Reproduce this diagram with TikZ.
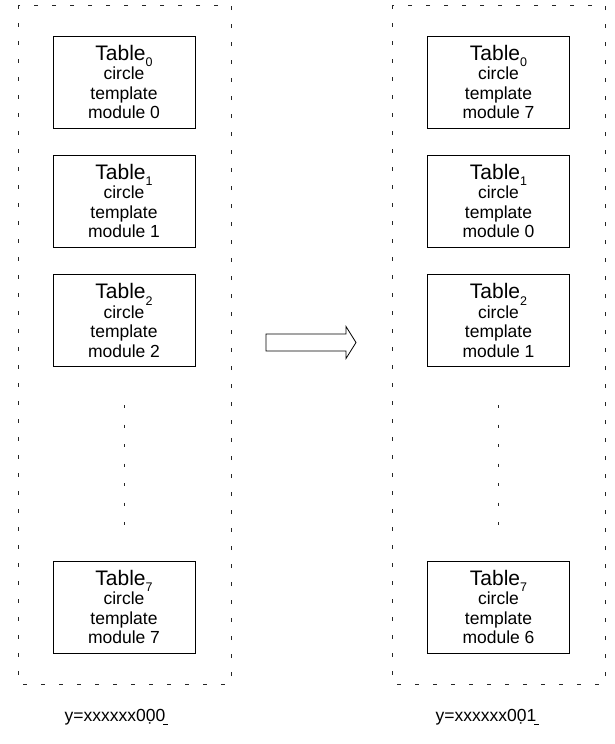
\documentclass[tikz,border=0pt]{standalone}
\usepackage{fontspec}
\setmainfont{Liberation Sans}
\newcommand{\tbl}[1]{{\fontsize{21}{21}\selectfont Table\raisebox{-6.5pt}{\fontsize{12.5}{12.5}\selectfont #1}}}
\newcommand{\ubar}[1]{\leavevmode\rlap{#1}\hbox to 0pt{\hskip0.45em\vrule height -2.5pt depth 3.5pt width 0.25em\hss}\phantom{#1}}
\begin{document}
\begin{tikzpicture}[x=1pt,y=-1pt,
  frame/.style={draw=black!85, line width=0.8pt, dash pattern=on 4pt off 14pt},
  dotline/.style={draw=black!85, line width=0.8pt, dash pattern=on 3pt off 16.5pt},
  tblbox/.style={draw, line width=0.8pt, minimum width=142pt, minimum height=92pt,
    align=center, inner sep=0pt, font={\fontsize{17.5}{19.5}\selectfont}},
  lbl/.style={font={\fontsize{17.5}{19.5}\selectfont}, inner sep=0pt}]
\useasboundingbox (0,0) rectangle (615,744);
% dashed frames
\draw[frame] (18,5) rectangle (231,684);
\draw[frame] (392,5) rectangle (605,684);
% left column
\node[tblbox] (l0) at (124,82)  {\tbl{0}\\circle\\template\\module 0};
\node[tblbox] (l1) at (124,201) {\tbl{1}\\circle\\template\\module 1};
\node[tblbox] (l2) at (124,320.5) {\tbl{2}\\circle\\template\\module 2};
\node[tblbox] (l7) at (124,607) {\tbl{7}\\circle\\template\\module 7};
% right column
\node[tblbox] (r0) at (498.5,82)  {\tbl{0}\\circle\\template\\module 7};
\node[tblbox] (r1) at (498.5,201) {\tbl{1}\\circle\\template\\module 0};
\node[tblbox] (r2) at (498.5,320.5) {\tbl{2}\\circle\\template\\module 1};
\node[tblbox] (r7) at (498.5,607) {\tbl{7}\\circle\\template\\module 6};
% dotted continuation lines
\coordinate (ldA) at (124,405);
\coordinate (ldB) at (124,535);
\coordinate (rdA) at (498.5,405);
\coordinate (rdB) at (498.5,535);
\draw[dotline] (ldA) -- (ldB);
\draw[dotline] (rdA) -- (rdB);
% block arrow
\draw[line width=0.8pt, line join=miter]
  (266,334) -- (346,334) -- (346,326.5) -- (356,342.5) -- (346,358.5)
  -- (346,351) -- (266,351) -- cycle;
% labels
\node[lbl] (ll) at (115,717) {y=xxxxxx0\d{0}\ubar{0}};
\node[lbl] (rl) at (486,717) {y=xxxxxx0\d{0}\ubar{1}};
\end{tikzpicture}
\end{document}
